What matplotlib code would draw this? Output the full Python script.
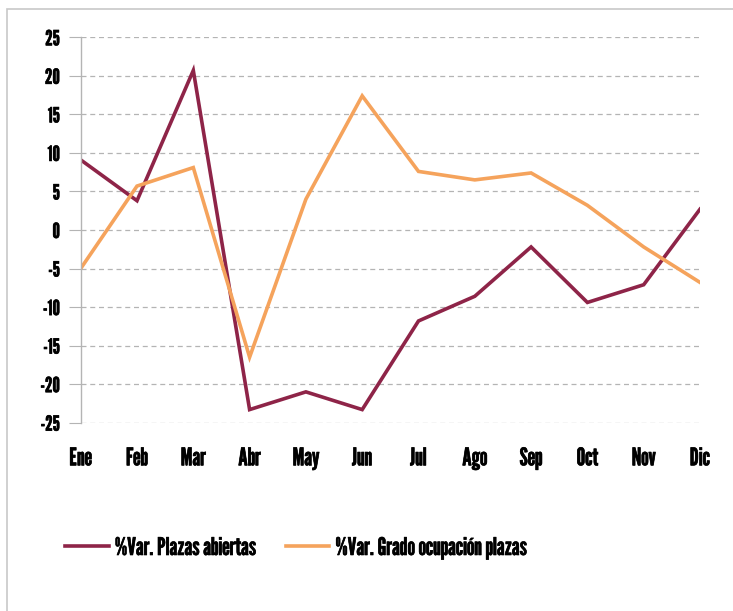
import matplotlib
matplotlib.use("Agg")
import matplotlib.pyplot as plt
import matplotlib.patheffects as pe
from matplotlib.patches import Rectangle

months = ["Ene", "Feb", "Mar", "Abr", "May", "Jun", "Jul", "Ago", "Sep", "Oct", "Nov", "Dic"]
plazas_abiertas = [9.1, 3.8, 20.7, -23.3, -21.0, -23.3, -11.8, -8.6, -2.2, -9.4, -7.1, 2.7]
grado_ocupacion = [-5.0, 5.7, 8.1, -16.5, 4.0, 17.4, 7.6, 6.5, 7.4, 3.2, -2.2, -6.8]
yticks = [25, 20, 15, 10, 5, 0, -5, -10, -15, -20, -25]

plt.rcParams['font.family'] = ['League Gothic', 'DejaVu Sans']
bold = [pe.withStroke(linewidth=0.45, foreground="black")]

fig = plt.figure(figsize=(7.33, 6.11), dpi=100)
W, H = 733, 611
# outer frame
fig.patches.append(Rectangle((7 / W, -0.1), 1.2, 1 - 9 / H + 0.1, transform=fig.transFigure,
                             fill=False, edgecolor="#c8c8c8", lw=1.2))

ax = fig.add_axes([80.7 / W, 1 - 422.7 / H, (700 - 80.7) / W, (422.7 - 37.3) / H])
x = list(range(len(months)))
ax.plot(x, plazas_abiertas, color="#8e2448", lw=2.6, label="%Var. Plazas abiertas", solid_joinstyle="miter")
ax.plot(x, grado_ocupacion, color="#f5a35c", lw=2.6, label="%Var. Grado ocupación plazas", solid_joinstyle="miter")

ax.set_xlim(0, 11)
ax.set_ylim(-25, 25)
ax.set_yticks(yticks)
ax.set_yticklabels([str(t) for t in yticks], fontsize=15, path_effects=bold)
ax.set_xticks(x)
ax.set_xticklabels(months, fontsize=17.5, path_effects=bold)
ax.grid(axis="y", color="#b4b4b4", ls=(0, (4, 3)), lw=0.9)
ax.set_axisbelow(True)
for s in ["top", "right", "bottom"]:
    ax.spines[s].set_visible(False)
ax.spines["left"].set_color("#b4b4b4")
ax.spines["left"].set_linewidth(1)
ax.tick_params(axis="y", length=9, color="#b4b4b4", pad=6)
ax.tick_params(axis="x", length=0, pad=17)

leg = fig.legend(loc="center left", bbox_to_anchor=(53 / W, 1 - 548 / H), ncol=2, frameon=False,
                 borderpad=0, fontsize=17.5, handlelength=1.8, handletextpad=0.25, columnspacing=1.2)
for t in leg.get_texts():
    t.set_path_effects(bold)

fig.savefig("out.png", dpi=100)
